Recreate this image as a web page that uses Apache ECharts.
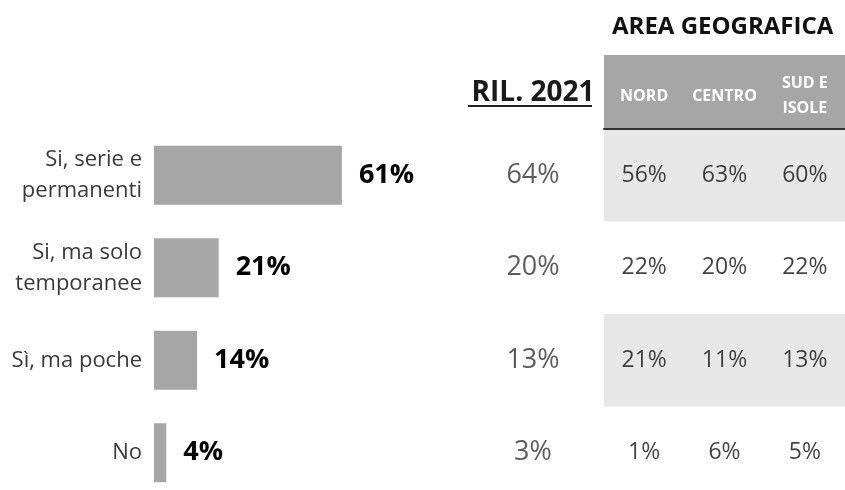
<!DOCTYPE html>
<html>
<head>
<meta charset="utf-8">
<script src="https://cdn.jsdelivr.net/npm/echarts@6/dist/echarts.min.js"></script>
<style>
  html, body { margin: 0; padding: 0; background: #fff; }
  #main { width: 845px; height: 490px; }
</style>
</head>
<body>
<div id="main"></div>
<script>
var myChart = echarts.init(document.getElementById('main'));

var categories = ['Si, serie e\npermanenti', 'Si, ma solo\ntemporanee', 'Sì, ma poche', 'No'];
var totale = [61, 21, 14, 4];
var ril2021 = [64, 20, 13, 3];
var areaCols = ['NORD', 'CENTRO', 'SUD E\nISOLE'];
var nord = [56, 22, 21, 1];
var centro = [63, 20, 11, 6];
var sud = [60, 22, 13, 5];

var font = '"Open Sans", "DejaVu Sans", sans-serif';

// table cells: [column, row, value]
var areaData = [];
[nord, centro, sud].forEach(function (col, c) {
    col.forEach(function (v, r) {
        areaData.push([c, r, v]);
    });
});
var rilData = ril2021.map(function (v, r) {
    return [0, r, v];
});

var gridTop = 129, gridHeight = 370;

option = {
    backgroundColor: '#fff',
    animation: false,
    title: {
        text: 'AREA GEOGRAFICA',
        left: 607,
        top: 10,
        textStyle: { fontFamily: font, fontSize: 24, fontWeight: 'bold', color: '#111' }
    },
    graphic: [
        // grey header band
        { type: 'rect', left: 604, top: 55, shape: { width: 241, height: 74 }, style: { fill: '#a6a6a6' }, z: -1 },
        // underline for RIL. 2021
        { type: 'line', shape: { x1: 468, y1: 106, x2: 592, y2: 106 }, style: { stroke: '#222', lineWidth: 2 } }
    ],
    grid: [
        { left: 154, width: 308, top: gridTop, height: gridHeight, outerBoundsMode: 'none' },
        { left: 493, width: 80, top: gridTop, height: gridHeight, outerBoundsMode: 'none' },
        { left: 604, width: 241, top: gridTop, height: gridHeight, outerBoundsMode: 'none' }
    ],
    xAxis: [
        { gridIndex: 0, type: 'value', min: 0, max: 100, show: false },
        {
            gridIndex: 1, type: 'category', data: ['RIL. 2021'], position: 'top',
            axisLine: { show: false }, axisTick: { show: false },
            axisLabel: { margin: 36, verticalAlign: 'middle', fontFamily: font, fontSize: 28, fontWeight: 'bold', color: '#1a1a1a' }
        },
        {
            gridIndex: 2, type: 'category', data: areaCols, position: 'top',
            axisLine: { show: true, lineStyle: { color: '#333', width: 2 } },
            axisTick: { show: false },
            axisLabel: { margin: 33, verticalAlign: 'middle', fontFamily: font, fontSize: 16, fontWeight: 'bold', color: '#fff', lineHeight: 25, interval: 0 }
        }
    ],
    yAxis: [
        {
            gridIndex: 0, type: 'category', data: categories, inverse: true,
            axisLine: { show: false }, axisTick: { show: false },
            axisLabel: { margin: 12, fontFamily: font, fontSize: 22, color: '#3a3a3a', lineHeight: 31 }
        },
        { gridIndex: 1, type: 'category', data: categories, inverse: true, show: false },
        {
            gridIndex: 2, type: 'category', data: categories, inverse: true,
            axisLine: { show: false }, axisTick: { show: false }, axisLabel: { show: false },
            splitArea: { show: true, areaStyle: { color: ['#e7e7e7', 'rgba(255,255,255,0)'] } }
        }
    ],
    series: [
        {
            name: 'Totale',
            type: 'bar',
            xAxisIndex: 0, yAxisIndex: 0,
            data: totale,
            barWidth: 59,
            itemStyle: { color: '#a6a6a6' },
            label: {
                show: true, position: 'right', distance: 17,
                formatter: '{c}%',
                fontFamily: font, fontSize: 27, fontWeight: 'bold', color: '#000'
            }
        },
        {
            name: 'RIL. 2021',
            type: 'scatter',
            xAxisIndex: 1, yAxisIndex: 1,
            data: rilData,
            symbolSize: 0,
            label: {
                show: true, position: 'inside',
                formatter: function (p) { return p.value[2] + '%'; },
                fontFamily: font, fontSize: 27, color: '#333'
            }
        },
        {
            name: 'Area geografica',
            type: 'scatter',
            xAxisIndex: 2, yAxisIndex: 2,
            data: areaData,
            symbolSize: 0,
            label: {
                show: true, position: 'inside',
                formatter: function (p) { return p.value[2] + '%'; },
                fontFamily: font, fontSize: 23, color: '#111'
            }
        }
    ]
};

myChart.setOption(option);
</script>
</body>
</html>
